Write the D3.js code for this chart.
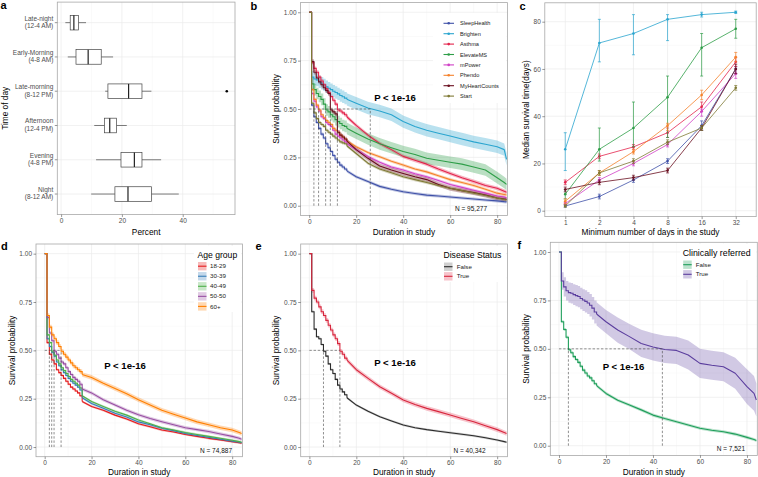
<!DOCTYPE html>
<html><head><meta charset="utf-8">
<script src="https://cdn.jsdelivr.net/npm/d3@7"></script>
<style>body{margin:0;background:#fff} svg{display:block}</style>
</head><body><svg id="chart" width="758" height="477"></svg>
<script>
// ---------------- DATA ----------------
// Panel a: time-of-day boxplots (percent)
const timeCats = ["Late-night|(12-4 AM)","Early-Morning|(4-8 AM)","Late-morning|(8-12 PM)","Afternoon|(12-4 PM)","Evening|(4-8 PM)","Night|(8-12 AM)"];
const boxLow  = [1.4, 2.2, 14.5, 10.9, 11.5, 9.9];
const boxQ1   = [3.0, 4.9, 15.4, 14.3, 19.7, 17.7];
const boxMed  = [4.2, 8.9, 22.2, 16.0, 24.1, 22.0];
const boxQ3   = [5.7, 13.2, 26.6, 18.2, 26.6, 29.7];
const boxHigh = [8.2, 17.1, 29.7, 21.6, 32.9, 38.7];
const boxOut  = [[], [], [54.5], [], [], []];
const pctTicks = [0, 20, 40];

// Kaplan-Meier time grids (days)
const earlyT = [0,1,2,3,4,5,6,7,8,9,10,11,12,13,14,15,16];
const lateT  = [20,25,30,35,40,45,50,55,60,65,70,75,80,83,84];
const durTicks = [0, 20, 40, 60, 80];
const survTicks = [0, 0.25, 0.5, 0.75, 1];

// Panel b: studies
const studies = ["SleepHealth","Brighten","Asthma","ElevateMS","mPower","Phendo","MyHeartCounts","Start"];
const studyEarly = [
 [1,0.52,0.46,0.43,0.40,0.37,0.35,0.32,0.30,0.28,0.26,0.24,0.225,0.21,0.20,0.19,0.18],
 [1,0.665,0.655,0.65,0.64,0.633,0.625,0.615,0.607,0.60,0.592,0.585,0.578,0.57,0.563,0.556,0.55],
 [1,0.74,0.71,0.69,0.665,0.645,0.625,0.605,0.585,0.565,0.545,0.525,0.495,0.49,0.48,0.47,0.46],
 [1,0.63,0.60,0.58,0.565,0.55,0.525,0.495,0.485,0.47,0.46,0.445,0.435,0.425,0.415,0.41,0.40],
 [1,0.58,0.54,0.51,0.49,0.46,0.45,0.43,0.42,0.41,0.39,0.37,0.36,0.35,0.34,0.33,0.32],
 [1,0.60,0.55,0.52,0.495,0.47,0.455,0.44,0.43,0.42,0.40,0.39,0.38,0.365,0.355,0.345,0.335],
 [1,0.745,0.69,0.66,0.64,0.625,0.61,0.595,0.58,0.495,0.485,0.475,0.38,0.365,0.355,0.345,0.335],
 [1,0.53,0.48,0.45,0.43,0.42,0.41,0.39,0.38,0.37,0.36,0.35,0.34,0.33,0.325,0.32,0.31]
];
const studyLate = [
 [0.15,0.125,0.10,0.085,0.072,0.063,0.055,0.05,0.045,0.04,0.035,0.03,0.025,0.021,0.02],
 [0.53,0.505,0.49,0.47,0.435,0.41,0.39,0.375,0.36,0.345,0.33,0.318,0.305,0.29,0.24],
 [0.415,0.365,0.322,0.29,0.255,0.235,0.215,0.19,0.167,0.145,0.125,0.105,0.09,0.075,0.07],
 [0.375,0.345,0.32,0.30,0.28,0.265,0.245,0.235,0.225,0.215,0.20,0.185,0.145,0.12,0.11],
 [0.29,0.255,0.225,0.2,0.185,0.165,0.15,0.13,0.11,0.095,0.08,0.065,0.05,0.045,0.04],
 [0.305,0.275,0.253,0.23,0.21,0.19,0.175,0.155,0.135,0.12,0.105,0.085,0.065,0.058,0.055],
 [0.29,0.245,0.205,0.185,0.167,0.15,0.135,0.11,0.09,0.078,0.068,0.055,0.04,0.035,0.033],
 [0.27,0.22,0.19,0.17,0.15,0.135,0.12,0.105,0.09,0.078,0.065,0.053,0.04,0.032,0.03]
];
const studyCI = [0.008, 0.032, 0.01, 0.03, 0.008, 0.008, 0.012, 0.008];
const studyMedian = [2, 26, 12, 7, 4, 4, 9, 2];
const studyN = "N = 95,277";

// Panel c: median survival by minimum days in study
const minDays = ["1","2","4","8","16","32"];
const medMid = [
 [2,6,13,21,36,60],[26,71,75,81,83,84],[12,23,27,33,44,63],[7,26,35,48,69,77],
 [3,13,20,28,42,58],[4,16,25,36,49,65],[9,12,14,17,35,60],[2,16,21,29,35,52]
];
const medLo = [
 [1.5,5,12,20,34,58],[17,63,66,72,82,83.5],[11,22,26,31,42,61],[5,21,27,31,57,73],
 [2.5,12,19,27,40,56],[3,15,24,34,47,63],[8,11,13,16,34,58],[1.5,15,20,28,34,51]
];
const medHi = [
 [2.5,7,14,22,38,61],[33,81,83,83,84,84.5],[13,24,28,35,46,65],[9,35,46,57,75,81],
 [3.5,14,21,29,43,60],[5,17,26,37,51,67],[10,13,15,18,36,62],[2.5,17,22,30,36,53]
];
const medTicks = [0, 20, 40, 60, 80];

// Panel d: age groups
const ageGroups = ["18-29","30-39","40-49","50-50","60+"];
const ageEarly = [
 [1,0.54,0.48,0.45,0.43,0.40,0.385,0.37,0.355,0.34,0.325,0.31,0.30,0.29,0.28,0.265,0.235],
 [1,0.56,0.52,0.49,0.47,0.44,0.42,0.40,0.385,0.37,0.355,0.34,0.33,0.32,0.31,0.295,0.255],
 [1,0.58,0.54,0.495,0.475,0.45,0.43,0.41,0.395,0.38,0.365,0.35,0.34,0.33,0.32,0.305,0.265],
 [1,0.67,0.59,0.55,0.495,0.48,0.46,0.44,0.43,0.41,0.39,0.375,0.36,0.35,0.34,0.325,0.30],
 [1,0.68,0.62,0.58,0.56,0.54,0.52,0.495,0.48,0.465,0.45,0.435,0.42,0.41,0.40,0.39,0.375]
];
const ageLate = [
 [0.21,0.19,0.165,0.145,0.12,0.105,0.088,0.078,0.065,0.055,0.045,0.037,0.028,0.022,0.02],
 [0.225,0.20,0.175,0.155,0.13,0.115,0.097,0.085,0.07,0.06,0.05,0.04,0.03,0.025,0.022],
 [0.235,0.21,0.185,0.165,0.14,0.12,0.10,0.088,0.075,0.065,0.055,0.045,0.035,0.028,0.025],
 [0.28,0.245,0.218,0.19,0.167,0.148,0.131,0.115,0.10,0.09,0.08,0.067,0.055,0.045,0.04],
 [0.36,0.33,0.303,0.275,0.245,0.218,0.19,0.17,0.15,0.13,0.115,0.10,0.088,0.075,0.07]
];
const ageCI = [0.006, 0.006, 0.006, 0.009, 0.012];
const ageMedian = [2, 3, 3, 4, 7];
const ageN = "N = 74,887";

// Panel e: disease status
const diseaseGroups = ["False","True"];
const diseaseEarly = [
 [1,0.70,0.61,0.57,0.56,0.53,0.495,0.47,0.43,0.40,0.38,0.35,0.32,0.30,0.285,0.27,0.255],
 [1,0.81,0.77,0.75,0.725,0.70,0.68,0.655,0.63,0.605,0.58,0.56,0.535,0.495,0.48,0.46,0.45]
];
const diseaseLate = [
 [0.217,0.185,0.157,0.135,0.114,0.10,0.09,0.082,0.074,0.066,0.058,0.048,0.036,0.028,0.025],
 [0.40,0.355,0.312,0.278,0.243,0.22,0.20,0.183,0.166,0.148,0.131,0.11,0.09,0.075,0.07]
];
const diseaseCI = [0.006, 0.012];
const diseaseMedian = [6, 13];
const diseaseN = "N = 40,342";

// Panel f: clinically referred
const referredGroups = ["False","True"];
const referredEarly = [
 [1,0.64,0.60,0.56,0.495,0.48,0.46,0.445,0.43,0.41,0.39,0.375,0.36,0.35,0.335,0.32,0.31],
 [1,0.85,0.82,0.80,0.79,0.787,0.78,0.775,0.77,0.76,0.752,0.745,0.737,0.725,0.71,0.69,0.68]
];
const referredLate = [
 [0.27,0.235,0.21,0.185,0.158,0.14,0.124,0.107,0.09,0.08,0.072,0.06,0.043,0.032,0.027],
 [0.64,0.597,0.563,0.528,0.51,0.497,0.492,0.468,0.425,0.415,0.408,0.374,0.305,0.27,0.236]
];
const referredCIEarly = [0.008, [0,0.045,0.05,0.05,0.052,0.053,0.054,0.055,0.055,0.056,0.056,0.057,0.057,0.058,0.058,0.059,0.06]];
const referredCILate  = [0.008, [0.06,0.065,0.065,0.07,0.07,0.07,0.07,0.075,0.075,0.075,0.075,0.08,0.09,0.09,0.085]];
const referredMedian = [4, 44];
const referredN = "N = 7,521";
const pText = "P < 1e-16";

// ---------------- STYLES ----------------
const FONT = '"Liberation Sans", Arial, Helvetica, sans-serif';
const studyColors = ["#3F51A8","#2AA5CF","#E3234B","#2E9E48","#D040C6","#F5822C","#6A0F1F","#7F7A35"];
const ageColors = ["#E41A1C","#377EB8","#4DAF4A","#984EA3","#FF7F00"];
const diseaseColors = ["#2B2B2B","#D7263D"];
const diseaseBand = ["#777777","#E8536A"];
const referredColors = ["#1E9E5A","#5B3E9E"];

const svg = d3.select("#chart").attr("font-family", FONT);
svg.append("rect").attr("width",758).attr("height",477).attr("fill","#fff");
const defs = svg.append("defs");
let clipCount = 0;

function frame(r) {
  const g = svg.append("g");
  g.append("rect").attr("x", r.l).attr("y", r.t).attr("width", r.r - r.l).attr("height", r.b - r.t).attr("fill", "#fff");
  const id = "clip" + (clipCount++);
  defs.append("clipPath").attr("id", id).append("rect")
    .attr("x", r.l).attr("y", r.t).attr("width", r.r - r.l).attr("height", r.b - r.t);
  return {g, id};
}
function grid(g, r, x, y, xMaj, xMin, yMaj, yMin) {
  const gg = g.append("g");
  xMin.forEach(v => gg.append("line").attr("x1", x(v)).attr("x2", x(v)).attr("y1", r.t).attr("y2", r.b).attr("stroke", "#F4F4F4").attr("stroke-width", 0.5));
  yMin.forEach(v => gg.append("line").attr("y1", y(v)).attr("y2", y(v)).attr("x1", r.l).attr("x2", r.r).attr("stroke", "#F4F4F4").attr("stroke-width", 0.5));
  xMaj.forEach(v => gg.append("line").attr("x1", x(v)).attr("x2", x(v)).attr("y1", r.t).attr("y2", r.b).attr("stroke", "#EBEBEB").attr("stroke-width", 0.7));
  yMaj.forEach(v => gg.append("line").attr("y1", y(v)).attr("y2", y(v)).attr("x1", r.l).attr("x2", r.r).attr("stroke", "#EBEBEB").attr("stroke-width", 0.7));
}
function border(g, r) {
  g.append("rect").attr("x", r.l).attr("y", r.t).attr("width", r.r - r.l).attr("height", r.b - r.t)
    .attr("fill", "none").attr("stroke", "#A8A8A8").attr("stroke-width", 0.8);
}
function styleAxis(a) {
  a.select(".domain").remove();
  a.attr("font-family", FONT).attr("font-size", 6.5);
  a.selectAll("line").attr("stroke", "#333").attr("stroke-width", 0.5);
  a.selectAll("text").attr("fill", "#4D4D4D");
}
function axisBottom(g, r, x, ticks, fmt) {
  const a = g.append("g").attr("transform", `translate(0,${r.b})`)
    .call(d3.axisBottom(x).tickValues(ticks).tickFormat(fmt).tickSize(2.5).tickPadding(1.3));
  styleAxis(a);
}
function axisLeft(g, r, y, ticks, fmt) {
  const a = g.append("g").attr("transform", `translate(${r.l},0)`)
    .call(d3.axisLeft(y).tickValues(ticks).tickFormat(fmt).tickSize(2.5).tickPadding(1.5));
  styleAxis(a);
}
function titles(g, r, xt, xBase, yt, yBase) {
  g.append("text").attr("x", (r.l + r.r) / 2).attr("y", xBase).attr("text-anchor", "middle")
    .attr("font-size", 8.3).attr("fill", "#000").text(xt);
  g.append("text").attr("transform", `translate(${yBase},${(r.t + r.b) / 2}) rotate(-90)`).attr("text-anchor", "middle")
    .attr("font-size", 8.3).attr("fill", "#000").text(yt);
}
function letter(t, x, y) {
  svg.append("text").attr("x", x).attr("y", y).attr("font-size", 11).attr("font-weight", "bold").attr("fill", "#000").text(t);
}
const hv = (c, j) => Array.isArray(c) ? c[j] : c;

function drawKM(g, clipId, x, y, early, late, ciE, ciL, colors, bandColors, bandOp, medians) {
  const gg = g.append("g").attr("clip-path", `url(#${clipId})`);
  const series = early.map((ev, i) => {
    const e = earlyT.map((t, j) => ({t, s: ev[j], h: ev[j] >= 1 ? 0 : hv(ciE[i], j)}));
    const l = [e[e.length - 1]].concat(lateT.map((t, j) => ({t, s: late[i][j], h: hv(ciL[i], j)})));
    return {e, l};
  });
  const areaE = d3.area().curve(d3.curveStepAfter).x(d => x(d.t)).y0(d => y(Math.max(0, d.s - d.h))).y1(d => y(Math.min(1, d.s + d.h)));
  const areaL = d3.area().curve(d3.curveLinear).x(d => x(d.t)).y0(d => y(Math.max(0, d.s - d.h))).y1(d => y(Math.min(1, d.s + d.h)));
  const lineE = d3.line().curve(d3.curveStepAfter).x(d => x(d.t)).y(d => y(d.s));
  const lineL = d3.line().curve(d3.curveLinear).x(d => x(d.t)).y(d => y(d.s));
  series.forEach((s, i) => {
    gg.append("path").attr("d", areaE(s.e)).attr("fill", bandColors[i]).attr("fill-opacity", bandOp[i]);
    gg.append("path").attr("d", areaL(s.l)).attr("fill", bandColors[i]).attr("fill-opacity", bandOp[i]);
  });
  series.forEach((s, i) => {
    gg.append("path").attr("d", lineE(s.e)).attr("fill", "none").attr("stroke", colors[i]).attr("stroke-width", 1.1);
    gg.append("path").attr("d", lineL(s.l)).attr("fill", "none").attr("stroke", colors[i]).attr("stroke-width", 1.1).attr("stroke-linejoin", "round");
  });
  const dash = "2.4,1.8";
  gg.append("line").attr("x1", x(0)).attr("x2", x(d3.max(medians))).attr("y1", y(0.5)).attr("y2", y(0.5))
    .attr("stroke", "#444").attr("stroke-width", 0.6).attr("stroke-dasharray", dash);
  Array.from(new Set(medians)).forEach(m => {
    gg.append("line").attr("x1", x(m)).attr("x2", x(m)).attr("y1", y(0)).attr("y2", y(0.5))
      .attr("stroke", "#444").attr("stroke-width", 0.6).attr("stroke-dasharray", dash);
  });
}
function kmPanel(r, early, late, ciE, ciL, colors, bandColors, bandOp, medians, nText, nX, pX, pY) {
  const x = d3.scaleLinear().domain([-3.7, 84.4]).range([r.l, r.r]);
  const y = d3.scaleLinear().domain([-0.05, 1.05]).range([r.b, r.t]);
  const {g, id} = frame(r);
  grid(g, r, x, y, durTicks, [10, 30, 50, 70], survTicks, [0.125, 0.375, 0.625, 0.875]);
  drawKM(g, id, x, y, early, late, ciE, ciL, colors, bandColors, bandOp, medians);
  g.append("text").attr("x", pX).attr("y", pY).attr("text-anchor", "middle").attr("font-size", 9.6)
    .attr("font-weight", "bold").attr("fill", "#000").text(pText);
  g.append("text").attr("x", nX).attr("y", r.b - 4).attr("text-anchor", "end").attr("font-size", 6.5)
    .attr("fill", "#111").text(nText);
  border(g, r);
  axisBottom(g, r, x, durTicks, d3.format("d"));
  axisLeft(g, r, y, survTicks, d3.format(".2f"));
  return {g, x, y};
}
function fillLegend(g, x0, yTitle, title, groups, colors, bandColors, bandOp, y0, dy, textX, titleSize) {
  g.append("text").attr("x", x0).attr("y", yTitle + 3).attr("font-size", titleSize).attr("fill", "#000").text(title);
  groups.forEach((name, i) => {
    const cy = y0 + i * dy;
    g.append("rect").attr("x", x0 + 0.5).attr("y", cy - 4.2).attr("width", 8.5).attr("height", 8.4)
      .attr("fill", bandColors[i]).attr("fill-opacity", bandOp[i]);
    g.append("line").attr("x1", x0 + 0.5).attr("x2", x0 + 9).attr("y1", cy).attr("y2", cy)
      .attr("stroke", colors[i]).attr("stroke-width", 1.1);
    g.append("text").attr("x", textX).attr("y", cy + 2.1).attr("font-size", 6.2).attr("fill", "#222").text(name);
  });
}

// ---------------- PANEL A ----------------
(function () {
  const r = {l: 57.3, r: 235, t: 2.1, b: 214.6};
  const x = d3.scaleLinear().domain([-1.25, 57.2]).range([r.l, r.r]);
  const y = d3.scalePoint().domain(timeCats).range([r.t, r.b]).padding(0.6);
  const {g} = frame(r);
  grid(g, r, x, v => y(v), pctTicks, [10, 30, 50], timeCats, []);
  const bh = 7.3;
  timeCats.forEach((c, i) => {
    const cy = y(c);
    g.append("line").attr("x1", x(boxLow[i])).attr("x2", x(boxQ1[i])).attr("y1", cy).attr("y2", cy).attr("stroke", "#444").attr("stroke-width", 0.7);
    g.append("line").attr("x1", x(boxQ3[i])).attr("x2", x(boxHigh[i])).attr("y1", cy).attr("y2", cy).attr("stroke", "#444").attr("stroke-width", 0.7);
    g.append("rect").attr("x", x(boxQ1[i])).attr("y", cy - bh).attr("width", x(boxQ3[i]) - x(boxQ1[i])).attr("height", 2 * bh)
      .attr("fill", "#fff").attr("stroke", "#444").attr("stroke-width", 0.7);
    g.append("line").attr("x1", x(boxMed[i])).attr("x2", x(boxMed[i])).attr("y1", cy - bh).attr("y2", cy + bh).attr("stroke", "#222").attr("stroke-width", 1.2);
    boxOut[i].forEach(o => g.append("circle").attr("cx", x(o)).attr("cy", cy).attr("r", 1.3).attr("fill", "#000"));
  });
  border(g, r);
  axisBottom(g, r, x, pctTicks, d3.format("d"));
  timeCats.forEach(c => {
    const cy = y(c);
    const parts = c.split("|");
    g.append("line").attr("x1", r.l - 2.5).attr("x2", r.l).attr("y1", cy).attr("y2", cy).attr("stroke", "#333").attr("stroke-width", 0.5);
    const t = g.append("text").attr("text-anchor", "end").attr("font-size", 6.5).attr("fill", "#4D4D4D");
    t.append("tspan").attr("x", r.l - 4).attr("y", cy - 2.0).text(parts[0]);
    t.append("tspan").attr("x", r.l - 4).attr("y", cy + 5.4).text(parts[1]);
  });
  titles(g, r, "Percent", 234.5, "Time of day", 8);
  letter("a", 0.5, 9);
})();

// ---------------- PANEL B ----------------
(function () {
  const r = {l: 300.5, r: 507.5, t: 2.6, b: 215.4};
  const bandOp = studyCI.map(() => 0.33);
  const {g} = kmPanel(r, studyEarly, studyLate, studyCI, studyCI, studyColors, studyColors, bandOp, studyMedian, studyN, 487, 395, 100.5);
  // legend
  const lg = g.append("g");
  lg.append("rect").attr("x", 433).attr("y", 13).attr("width", 73).attr("height", 90).attr("fill", "#fff");
  studies.forEach((s, i) => {
    const cy = 23.3 + i * 10.4;
    lg.append("line").attr("x1", 443.5).attr("x2", 454).attr("y1", cy).attr("y2", cy).attr("stroke", studyColors[i]).attr("stroke-width", 1.1);
    lg.append("circle").attr("cx", 448.7).attr("cy", cy).attr("r", 1.3).attr("fill", studyColors[i]);
    lg.append("text").attr("x", 460).attr("y", cy + 2).attr("font-size", 5.6).attr("fill", "#222").text(s);
  });
  titles(g, r, "Duration in study", 234.5, "Survival probability", 279);
  letter("b", 250.5, 9.5);
})();

// ---------------- PANEL C ----------------
(function () {
  const r = {l: 544.8, r: 756.2, t: 2.8, b: 216.6};
  const x = d3.scalePoint().domain(minDays).range([r.l, r.r]).padding(0.6);
  const y = d3.scaleLinear().domain([-2.5, 88]).range([r.b, r.t]);
  const {g, id} = frame(r);
  grid(g, r, v => x(v), y, minDays, [], medTicks, [10, 30, 50, 70]);
  const gg = g.append("g").attr("clip-path", `url(#${id})`);
  const line = d3.line().x((d, j) => x(minDays[j])).y(d => y(d));
  studies.forEach((s, i) => {
    gg.append("path").attr("d", line(medMid[i])).attr("fill", "none").attr("stroke", studyColors[i]).attr("stroke-width", 0.8);
    minDays.forEach((m, j) => {
      const cx = x(m);
      gg.append("line").attr("x1", cx).attr("x2", cx).attr("y1", y(medLo[i][j])).attr("y2", y(medHi[i][j])).attr("stroke", studyColors[i]).attr("stroke-width", 0.7);
      gg.append("line").attr("x1", cx - 1.5).attr("x2", cx + 1.5).attr("y1", y(medLo[i][j])).attr("y2", y(medLo[i][j])).attr("stroke", studyColors[i]).attr("stroke-width", 0.7);
      gg.append("line").attr("x1", cx - 1.5).attr("x2", cx + 1.5).attr("y1", y(medHi[i][j])).attr("y2", y(medHi[i][j])).attr("stroke", studyColors[i]).attr("stroke-width", 0.7);
      gg.append("circle").attr("cx", cx).attr("cy", y(medMid[i][j])).attr("r", 1.3).attr("fill", studyColors[i]);
    });
  });
  border(g, r);
  axisBottom(g, r, x, minDays, d => d);
  axisLeft(g, r, y, medTicks, d3.format("d"));
  titles(g, r, "Minimum number of days in the study", 234.5, "Median survival time(days)", 529);
  letter("c", 519.5, 9.5);
})();

// ---------------- PANEL D ----------------
(function () {
  const r = {l: 36, r: 242.5, t: 244, b: 456.7};
  const bandOp = [0.3, 0.3, 0.3, 0.3, 0.3];
  const {g} = kmPanel(r, ageEarly, ageLate, ageCI, ageCI, ageColors, ageColors, bandOp, ageMedian, ageN, 232, 125, 368.8);
  g.append("rect").attr("x", 194).attr("y", 246).attr("width", 47).attr("height", 66).attr("fill", "#fff");
  fillLegend(g, 197.5, 254.5, "Age group", ageGroups, ageColors, ageColors, bandOp, 266.2, 10.05, 210, 8.6);
  titles(g, r, "Duration in study", 474.5, "Survival probability", 15);
  letter("d", 1, 249.5);
})();

// ---------------- PANEL E ----------------
(function () {
  const r = {l: 300.7, r: 507.5, t: 244, b: 456.7};
  const bandOp = [0.35, 0.35];
  const {g} = kmPanel(r, diseaseEarly, diseaseLate, diseaseCI, diseaseCI, diseaseColors, diseaseBand, bandOp, diseaseMedian, diseaseN, 485.5, 395, 366.3);
  g.append("rect").attr("x", 440).attr("y", 246).attr("width", 66).attr("height", 36).attr("fill", "#fff");
  fillLegend(g, 443.5, 254.5, "Disease Status", diseaseGroups, diseaseColors, diseaseBand, bandOp, 266.7, 9.6, 456.7, 8.6);
  titles(g, r, "Duration in study", 474.5, "Survival probability", 279);
  letter("e", 255.5, 249.5);
})();

// ---------------- PANEL F ----------------
(function () {
  const r = {l: 550.3, r: 757.3, t: 242.3, b: 455.4};
  const bandOp = [0.3, 0.28];
  const {g} = kmPanel(r, referredEarly, referredLate, referredCIEarly, referredCILate, referredColors, referredColors, bandOp, referredMedian, referredN, 745, 623.5, 370);
  g.append("rect").attr("x", 680).attr("y", 244).attr("width", 76).attr("height", 36).attr("fill", "#fff");
  fillLegend(g, 682.7, 253, "Clinically referred", referredGroups, referredColors, referredColors, bandOp, 264.7, 9.6, 695.7, 8.8);
  titles(g, r, "Duration in study", 474.5, "Survival probability", 529);
  letter("f", 517.5, 248.5);
})();
</script>
</body></html>
